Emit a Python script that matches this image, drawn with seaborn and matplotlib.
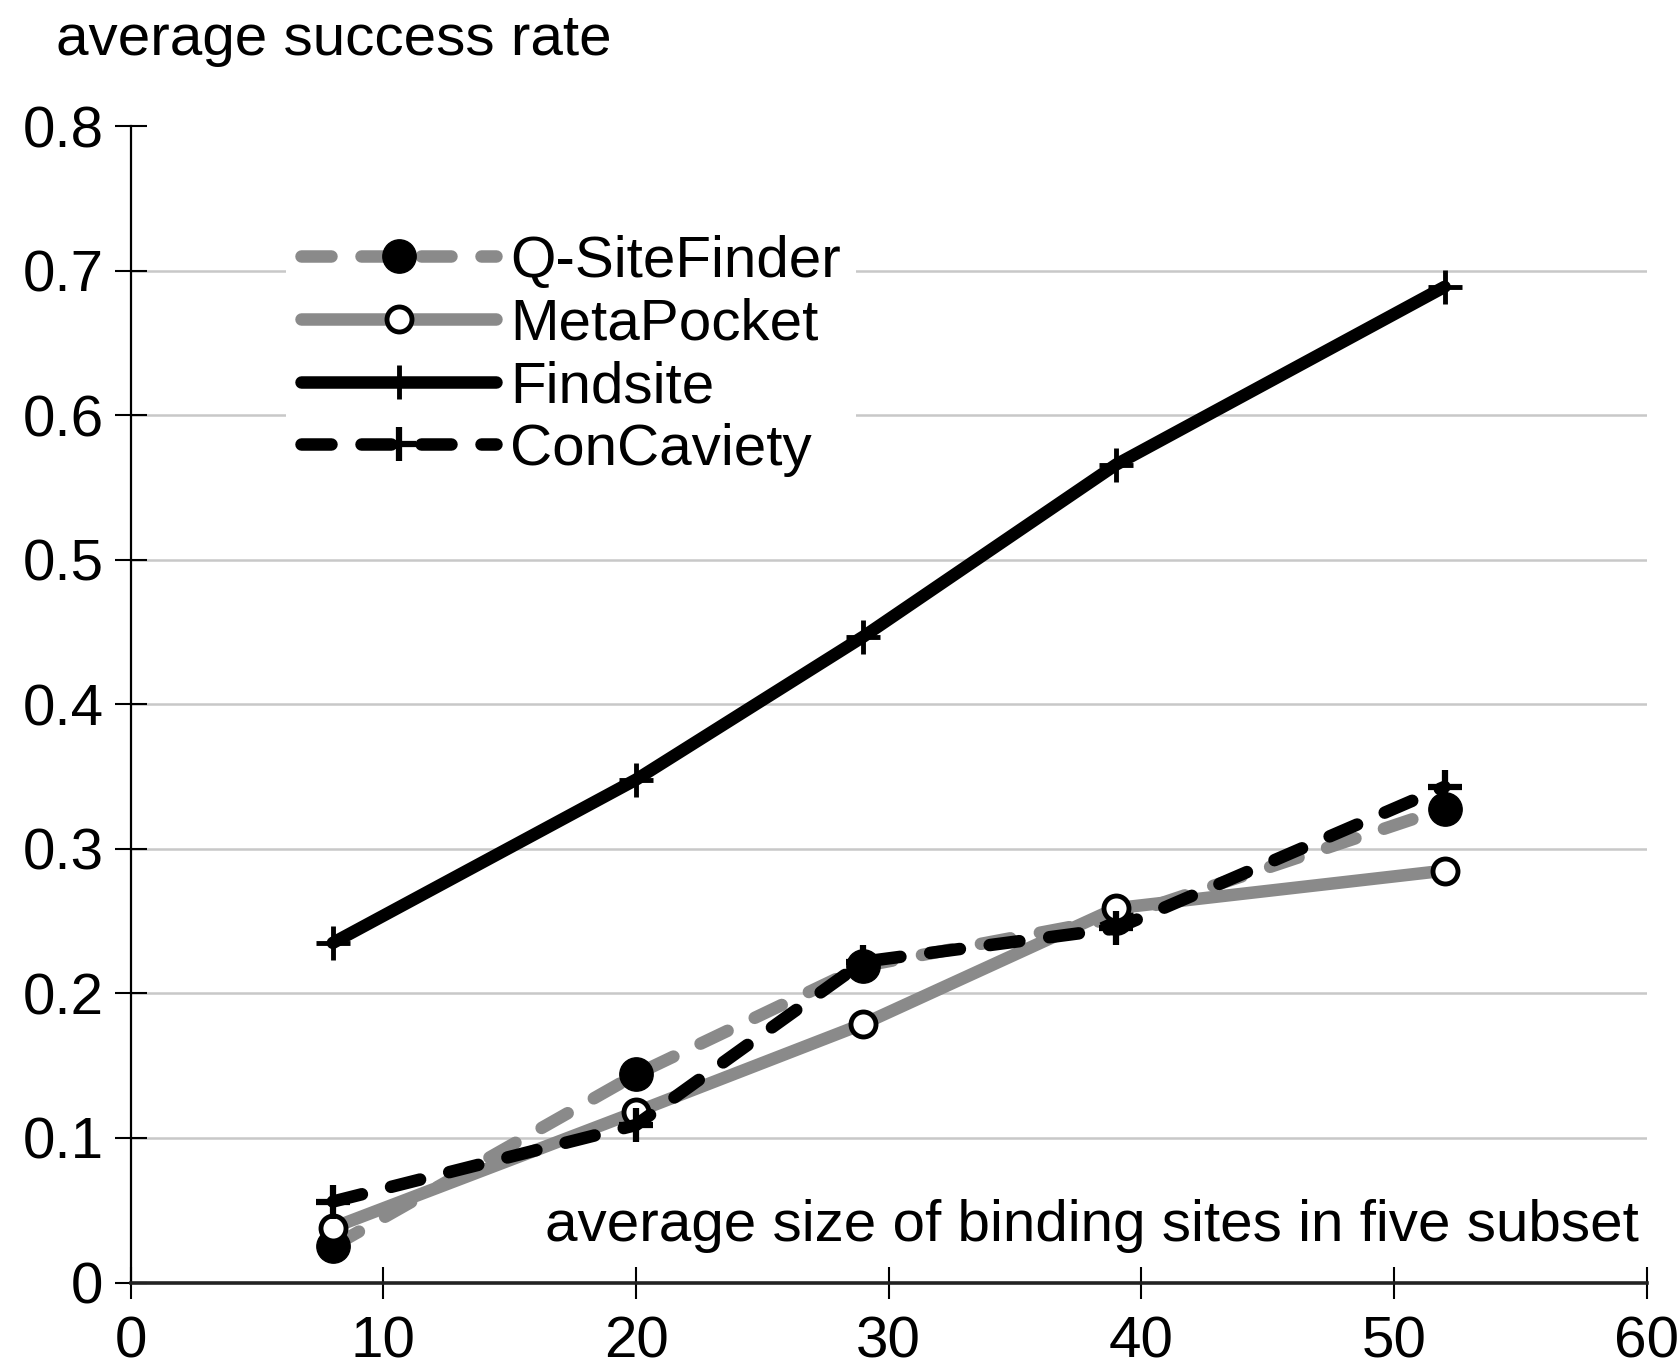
import matplotlib
matplotlib.use("Agg")
import matplotlib.pyplot as plt
import seaborn as sns

# Average size of binding sites in each of the five subsets
site_size = [8, 20, 29, 39, 52]

# Average success rate per method
q_sitefinder = [0.025, 0.144, 0.219, 0.252, 0.328]
metapocket = [0.038, 0.118, 0.179, 0.259, 0.285]
findsite = [0.235, 0.348, 0.447, 0.566, 0.689]
concaviety = [0.056, 0.109, 0.222, 0.245, 0.343]

x_ticks = [0, 10, 20, 30, 40, 50, 60]
y_ticks = [0, 0.1, 0.2, 0.3, 0.4, 0.5, 0.6, 0.7, 0.8]
y_tick_labels = ["0", "0.1", "0.2", "0.3", "0.4", "0.5", "0.6", "0.7", "0.8"]

sns.set_style("white")
plt.rcParams["font.family"] = ["Liberation Sans", "DejaVu Sans"]
plt.rcParams["text.color"] = "black"
plt.rcParams["axes.labelcolor"] = "black"
plt.rcParams["xtick.color"] = "black"
plt.rcParams["ytick.color"] = "black"

GRAY = "#8a8a8a"
FS = 42
LW = 9
DASH = (0, (2.4, 2.4))

fig = plt.figure(figsize=(16.8, 13.68), dpi=100)
ax = fig.add_axes([0.0778, 0.0625, 0.9024, 0.8451])

common = dict(ax=ax, estimator=None, sort=False, linewidth=LW,
              solid_capstyle="round", dash_capstyle="round", clip_on=False)

sns.lineplot(x=site_size, y=q_sitefinder, color=GRAY, linestyle=DASH,
             marker="o", markersize=24, markerfacecolor="black",
             markeredgecolor="black", markeredgewidth=1,
             label="Q-SiteFinder", zorder=3, **common)
sns.lineplot(x=site_size, y=metapocket, color=GRAY, linestyle="-",
             marker="o", markersize=18, markerfacecolor="white",
             markeredgecolor="black", markeredgewidth=3.5,
             label="MetaPocket", zorder=4, **common)
sns.lineplot(x=site_size, y=findsite, color="black", linestyle="-",
             marker="+", markersize=24, markeredgewidth=3.5,
             markeredgecolor="black",
             label="Findsite", zorder=5, **common)
sns.lineplot(x=site_size, y=concaviety, color="black", linestyle=DASH,
             marker="+", markersize=24, markeredgewidth=4.5,
             markeredgecolor="black",
             label="ConCaviety", zorder=6, **common)

ax.set_xlim(0, 60)
ax.set_ylim(0, 0.8)
ax.set_xticks(x_ticks)
ax.set_xticklabels([str(v) for v in x_ticks])
ax.set_yticks(y_ticks)
ax.set_yticklabels(y_tick_labels)
ax.set_xlabel("")
ax.set_ylabel("")

for side in ("top", "right"):
    ax.spines[side].set_visible(False)
ax.spines["left"].set_linewidth(1.6)
ax.spines["left"].set_color("black")
ax.spines["bottom"].set_linewidth(2.6)
ax.spines["bottom"].set_color("#222222")

ax.tick_params(axis="both", which="major", bottom=True, left=True,
               direction="inout", length=23, width=1.5,
               color="black", labelsize=FS, labelcolor="black")
ax.tick_params(axis="x", pad=12)
ax.tick_params(axis="y", pad=8)

ax.yaxis.grid(True, color="#c8c8c8", linewidth=1.8)
ax.xaxis.grid(False)
ax.set_axisbelow(True)
ax.yaxis.get_gridlines()[-1].set_visible(False)
ax.yaxis.get_gridlines()[0].set_visible(False)

leg = ax.legend(loc="upper left", bbox_to_anchor=(0.1026, 0.919),
                borderaxespad=0, borderpad=0.25, fontsize=FS,
                handlelength=3.35, handletextpad=0.24, labelspacing=0.15,
                frameon=True, facecolor="white", edgecolor="white",
                framealpha=1.0, numpoints=1)
leg.get_frame().set_linewidth(0)
for t in leg.get_texts():
    t.set_color("black")

fig.text(56 / 1680, 1 - 55 / 1368, "average success rate", fontsize=FS,
         ha="left", va="baseline", color="black")
ax.text(0.9949, 0.0359, "average size of binding sites in five subset",
        transform=ax.transAxes, fontsize=FS, ha="right", va="baseline",
        color="black",
        bbox=dict(facecolor="white", edgecolor="none", pad=2), zorder=2)

fig.savefig("out.png", dpi=100, facecolor="white")
